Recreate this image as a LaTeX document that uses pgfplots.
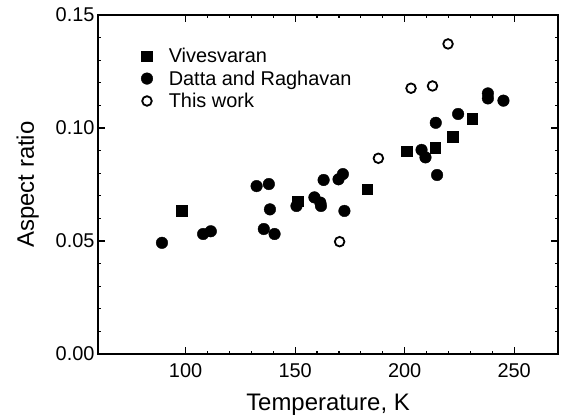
\documentclass[border=0pt]{standalone}
\usepackage{pgfplots}
\pgfplotsset{compat=1.18}
\usepackage{fontspec}
\setmainfont{Liberation Sans}
\begin{document}
\begin{tikzpicture}
\begin{axis}[
 name=ax,
 scale only axis, width=460bp, height=339bp,
 xmin=60, xmax=270, ymin=0, ymax=0.15,
 xtick={100,150,200,250}, minor x tick num=4,
 ytick={0,0.05,0.10,0.15}, minor y tick num=4,
 scaled y ticks=false,
 yticklabel style={/pgf/number format/.cd, fixed, fixed zerofill, precision=2},
 /pgf/number format/assume math mode=true,
 tick align=inside, major tick length=7bp, minor tick length=3.5bp,
 axis line style={line width=1.3bp},
 every tick/.style={black, line width=1.1bp},
 tick label style={font=\fontsize{20}{22}\selectfont},
 xticklabel style={yshift=-6bp},
 xlabel={Temperature, K}, ylabel={Aspect ratio},
 label style={font=\fontsize{24}{26}\selectfont},
 xlabel style={yshift=-10bp},
 ylabel style={yshift=10bp},
 legend image code/.code={\draw[#1] plot coordinates {(0bp,0bp)};},
 legend style={draw=none, fill=none, at={(0,1)}, anchor=north west, xshift=40bp, yshift=-29bp,
   font=\fontsize{20}{21}\selectfont, row sep=2.5bp,
   /tikz/every odd column/.append style={column sep=14bp}},
 legend cell align=left,
]
\addplot[only marks, mark=square*, mark size=5.3bp, black] coordinates {
(98.3,0.0633) (151.2,0.0676) (182.9,0.0730) (201.0,0.0898) (213.9,0.0913) (222.0,0.0962) (230.9,0.1041)
};
\addlegendentry{Vivesvaran}
\addplot[only marks, mark=*, mark size=5.8bp, black] coordinates {
(89.2,0.0492) (108.0,0.0531) (111.5,0.0543) (132.4,0.0743) (138.0,0.0752) (138.5,0.0640) (135.7,0.0553) (140.6,0.0531) (150.6,0.0655) (158.8,0.0693) (161.5,0.0670) (161.8,0.0655) (163.0,0.0770) (169.8,0.0773) (171.8,0.0796) (172.5,0.0633) (207.7,0.0903) (209.5,0.0870) (214.2,0.1023) (214.8,0.0792) (224.4,0.1062) (238.0,0.1153) (238.0,0.1131) (245.1,0.1121)
};
\addlegendentry{Datta and Raghavan}
\addplot[only marks, mark=o, mark size=4.8bp, black, line width=1.8bp] coordinates {
(170.3,0.0497) (188.0,0.0866) (202.9,0.1176) (212.7,0.1186) (219.8,0.1372)
};
\addlegendentry{This work}
\end{axis}
\path (ax.south west) ++(-98bp,-63bp) rectangle ++(562bp,417bp);
\end{tikzpicture}
\end{document}
